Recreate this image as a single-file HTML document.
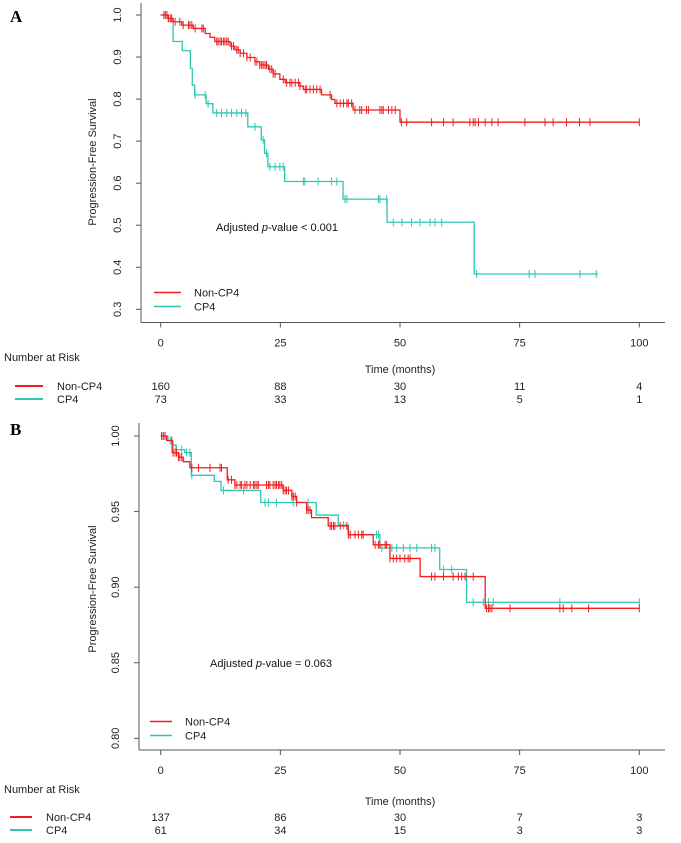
<!DOCTYPE html>
<html><head><meta charset="utf-8"><style>
body{margin:0;background:#fff;}
svg{display:block;font-family:"Liberation Sans",Arial,sans-serif;}
</style></head><body>
<svg id="chart" width="681" height="843" viewBox="0 0 681 843" xmlns="http://www.w3.org/2000/svg"></svg>
<script>
// ---- Panel A data ----
const aXTicks=[0,25,50,75,100];
const aYTicks=[1.0,0.9,0.8,0.7,0.6,0.5,0.4,0.3];
const aYTickLabels=["1.0","0.9","0.8","0.7","0.6","0.5","0.4","0.3"];
const aRedTimes=[0,1.6,2.6,4.4,6.8,9.3,10.3,11.3,14.5,15.5,16.6,18.0,19.7,20.7,22.5,23.5,24.9,26.0,29.1,29.8,33.6,35.7,36.4,40.2,50.0];
const aRedSurv=[1,0.992,0.984,0.976,0.968,0.956,0.947,0.937,0.926,0.917,0.909,0.899,0.889,0.881,0.871,0.860,0.847,0.839,0.831,0.823,0.810,0.799,0.790,0.774,0.745];
const aRedEnd=100;
const aRedCens=[0.9,1.3,1.6,2.0,2.3,3.0,4.0,4.7,5.8,6.1,6.5,7.2,8.6,8.9,11.7,12.0,12.4,12.7,13.1,13.4,13.8,14.1,14.8,15.2,15.9,16.2,16.6,17.3,18.0,18.7,19.7,20.1,20.7,21.1,21.4,21.8,22.1,22.8,23.2,23.5,23.9,25.6,26.3,27.0,27.4,28.1,28.8,29.1,30.2,30.5,31.2,31.9,32.6,33.3,35.4,36.8,37.5,38.2,38.9,39.2,39.9,40.6,41.6,42.0,43.0,43.4,45.8,46.2,46.5,47.6,48.3,49.0,50.3,51.4,56.6,59.1,61.1,64.6,65.3,65.7,66.4,67.8,69.2,70.5,76.1,80.3,82.0,84.8,87.5,89.7,100];
const aCyanTimes=[0,1.6,2.6,4.5,6.2,6.6,7.1,9.5,10.9,18.2,21.0,21.7,22.4,25.9,38.1,47.3,65.5];
const aCyanSurv=[1,0.986,0.937,0.915,0.873,0.833,0.810,0.789,0.767,0.734,0.703,0.671,0.639,0.604,0.562,0.507,0.384];
const aCyanEnd=91.4;
const aCyanCens=[0.6,1.0,7.2,9.3,9.9,11.7,12.7,13.8,14.8,15.9,16.9,17.8,19.7,21.4,22.1,22.8,23.9,24.9,25.6,29.8,30.1,32.9,35.7,36.8,38.5,38.9,45.5,45.8,47.2,48.6,50.4,52.4,54.2,56.3,57.3,58.7,66.0,77.0,78.2,87.6,91.0];
const aRiskNon=["160","88","30","11","4"];
const aRiskCP4=["73","33","13","5","1"];
// ---- Panel B data ----
const bXTicks=[0,25,50,75,100];
const bYTicks=[1.00,0.95,0.90,0.85,0.80];
const bYTickLabels=["1.00","0.95","0.90","0.85","0.80"];
const bRedTimes=[0,1.25,2.4,3.7,4.7,6.1,13.9,15.5,25.6,27.4,28.4,30.5,31.5,35.0,39.2,44.4,47.9,54.2,67.8];
const bRedSurv=[1,0.997,0.989,0.986,0.983,0.979,0.971,0.9676,0.964,0.960,0.956,0.951,0.946,0.9405,0.9347,0.928,0.919,0.907,0.886];
const bRedEnd=100;
const bRedCens=[0.2,0.55,0.9,2.3,2.6,3.0,3.3,3.7,4.0,4.4,6.5,7.9,10.3,12.4,12.7,14.1,14.8,15.5,15.9,16.6,16.9,17.6,18.0,18.7,19.4,19.7,20.1,20.4,22.1,22.5,22.8,23.5,23.9,24.2,24.6,24.9,25.3,25.6,26.0,26.3,26.7,27.4,27.7,28.1,28.4,30.5,30.8,31.2,35.4,35.7,36.1,36.4,37.5,38.9,39.2,39.6,40.6,41.3,42.0,42.3,44.8,45.5,45.8,46.9,47.2,47.9,48.6,49.3,50.0,51.0,51.7,52.1,56.6,57.3,59.1,61.1,62.2,62.9,63.6,65.3,68.1,68.5,68.8,69.2,73.0,83.4,84.1,85.9,89.4,100];
const bCyanTimes=[0,1.5,2.5,3.2,5.0,6.4,11.2,12.6,20.9,32.5,37.1,39.2,45.8,58.3,63.9];
const bCyanSurv=[1,0.997,0.994,0.991,0.989,0.974,0.970,0.964,0.956,0.9477,0.941,0.9347,0.926,0.9117,0.890];
const bCyanEnd=100;
const bCyanCens=[0.2,0.9,2.0,2.6,3.3,4.4,5.4,6.1,6.5,13.1,17.3,21.8,22.5,24.2,27.7,30.8,38.2,39.6,45.1,45.5,46.2,48.3,49.3,50.7,52.1,53.5,56.6,57.3,59.1,60.8,65.3,67.4,68.5,69.5,83.4,100];
const bRiskNon=["137","86","30","7","3"];
const bRiskCP4=["61","34","15","3","3"];

const RED="#f01e1e", CYAN="#2fc6b2";
const svg=document.getElementById('chart');
const NS="http://www.w3.org/2000/svg";
function mk(tag,attrs,parent){const e=document.createElementNS(NS,tag);for(const k in attrs)e.setAttribute(k,attrs[k]);(parent||svg).appendChild(e);return e;}
function txt(s,attrs,parent){const e=mk('text',attrs,parent);e.textContent=s;return e;}

function survAt(times,surv,t){let s=surv[0];for(let i=0;i<times.length;i++){if(times[i]<=t)s=surv[i];}return s;}

function panel(cfg){
  const g=mk('g',{});
  
  
  const X=t=>cfg.x0+(cfg.x1-cfg.x0)*t/100;
  const Y=v=>cfg.yTop+(cfg.yBot-cfg.yTop)*(cfg.vTop-v)/(cfg.vTop-cfg.vBot);
  const lbl=txt(cfg.letter,{x:10,y:cfg.letterY,'font-family':'Liberation Serif, serif','font-weight':'bold','font-size':17,fill:'#000'},g);
  
  
  // axes
  const ya=mk('line',{x1:cfg.axX,y1:cfg.axTop,x2:cfg.axX,y2:cfg.axY,stroke:'#555','stroke-width':1},g);
  
  
  const xa=mk('line',{x1:cfg.axX,y1:cfg.axY,x2:665,y2:cfg.axY,stroke:'#555','stroke-width':1},g);
  
  
  cfg.yTicks.forEach((v,i)=>{
    const y=Y(v);
    mk('line',{x1:cfg.axX-5,y1:y,x2:cfg.axX,y2:y,stroke:'#555'},g);
    const t=txt(cfg.yTickLabels[i],{x:0,y:0,'font-size':11,'text-anchor':'middle',fill:'#222',transform:`translate(${cfg.axX-20},${y}) rotate(-90)`},g);
    
    
  });
  cfg.xTicks.forEach((v,i)=>{
    const x=X(v);
    mk('line',{x1:x,y1:cfg.axY,x2:x,y2:cfg.axY+5,stroke:'#555'},g);
    const t=txt(String(v),{x:x,y:cfg.axY+24,'font-size':11,'text-anchor':'middle',fill:'#222'},g);
    
    
    const r1=txt(cfg.riskNon[i],{x:x,y:cfg.riskY1,'font-size':11,'text-anchor':'middle',fill:'#222'},g);
    
    
    const r2=txt(cfg.riskCP4[i],{x:x,y:cfg.riskY2,'font-size':11,'text-anchor':'middle',fill:'#222'},g);
    
    
  });
  const yt=txt('Progression-Free Survival',{x:0,y:0,'font-size':11,'text-anchor':'middle',fill:'#222',transform:`translate(${cfg.yTitleX},${cfg.yTitleY}) rotate(-90)`},g);
  
  
  const xt=txt('Time (months)',{x:400,y:cfg.xTitleY,'font-size':11,'text-anchor':'middle',fill:'#222'},g);
  
  
  const nr=txt('Number at Risk',{x:4,y:cfg.nrY,'font-size':11,fill:'#222'},g);
  
  
  [[RED,'Non-CP4',cfg.riskY1],[CYAN,'CP4',cfg.riskY2]].forEach(([c,n,y])=>{
    mk('line',{x1:cfg.rlx1,y1:y-4,x2:cfg.rlx2,y2:y-4,stroke:c,'stroke-width':2},g);
    const t=txt(n,{x:cfg.rlx2+14,y:y,'font-size':11,fill:'#222'},g);
    
    
  });
  // curves
  function curve(times,surv,end,cens,color,name){
    let d=`M${X(times[0])},${Y(surv[0])}`;
    for(let i=1;i<times.length;i++){d+=` H${X(times[i])} V${Y(surv[i])}`;}
    d+=` H${X(end)}`;
    const p=mk('path',{d:d,fill:'none',stroke:color,'stroke-width':1.3},g);
    
    
    cens.forEach(t=>{
      const x=X(t),y=Y(survAt(times,surv,t));
      const m=mk('line',{x1:x,y1:y-4,x2:x,y2:y+4,stroke:color,'stroke-width':1},g);
      
      
    });
  }
  curve(cfg.cyanTimes,cfg.cyanSurv,cfg.cyanEnd,cfg.cyanCens,CYAN,'cp4');
  curve(cfg.redTimes,cfg.redSurv,cfg.redEnd,cfg.redCens,RED,'non-cp4');
  // legend
  [[RED,'Non-CP4',cfg.legY1],[CYAN,'CP4',cfg.legY2]].forEach(([c,n,y])=>{
    const l=mk('line',{x1:cfg.legX1,y1:y,x2:cfg.legX2,y2:y,stroke:c,'stroke-width':1.5},g);
    
    
    const t=txt(n,{x:cfg.legX2+13,y:y+4,'font-size':11,fill:'#222'},g);
    
    
  });
  const pv=mk('text',{x:cfg.pX,y:cfg.pY,'font-size':11,fill:'#111'},g);
  
  
  pv.innerHTML='Adjusted <tspan font-style="italic">p</tspan>-value '+cfg.pText;
}

panel({name:'panel-a',letter:'A',letterY:22,x0:160.7,x1:639.3,yTop:15,yBot:309.3,vTop:1.0,vBot:0.3,
  axX:141,axTop:3,axY:322.5,yTicks:aYTicks,yTickLabels:aYTickLabels,xTicks:aXTicks,
  riskNon:aRiskNon,riskCP4:aRiskCP4,riskY1:390,riskY2:403,nrY:361,rlx1:15,rlx2:43,
  yTitleX:96,yTitleY:162,xTitleY:373,
  redTimes:aRedTimes,redSurv:aRedSurv,redEnd:aRedEnd,redCens:aRedCens,
  cyanTimes:aCyanTimes,cyanSurv:aCyanSurv,cyanEnd:aCyanEnd,cyanCens:aCyanCens,
  legX1:154,legX2:181,legY1:292.5,legY2:306.5,pX:216,pY:231,pText:'< 0.001'});
panel({name:'panel-b',letter:'B',letterY:435,x0:160.7,x1:639.3,yTop:436,yBot:738.3,vTop:1.0,vBot:0.8,
  axX:139,axTop:423,axY:750,yTicks:bYTicks,yTickLabels:bYTickLabels,xTicks:bXTicks,
  riskNon:bRiskNon,riskCP4:bRiskCP4,riskY1:821,riskY2:834,nrY:793,rlx1:10,rlx2:32,
  yTitleX:96,yTitleY:589,xTitleY:805,
  redTimes:bRedTimes,redSurv:bRedSurv,redEnd:bRedEnd,redCens:bRedCens,
  cyanTimes:bCyanTimes,cyanSurv:bCyanSurv,cyanEnd:bCyanEnd,cyanCens:bCyanCens,
  legX1:150,legX2:172,legY1:721.5,legY2:735.5,pX:210,pY:667,pText:'= 0.063'});
</script>
</body></html>
